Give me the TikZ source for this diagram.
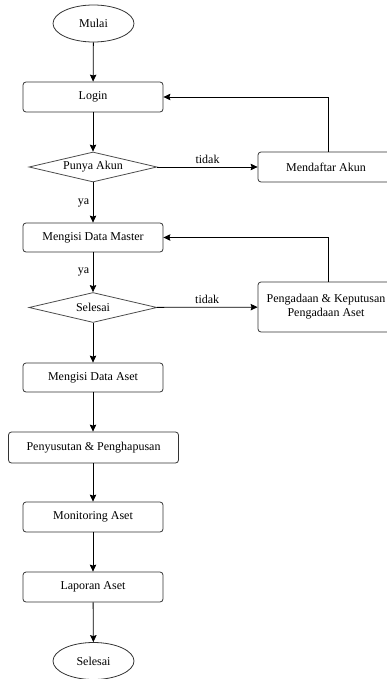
\documentclass[tikz,border=0pt]{standalone}
\usepackage{fontspec}
\setmainfont{Liberation Serif}
\usetikzlibrary{shapes.geometric,arrows.meta}

\begin{document}
\begin{tikzpicture}[x=1pt, y=-1pt, font=\fontsize{12}{14}\selectfont,
    proses/.style={draw=black!80, rounded corners=3pt, line width=0.8pt,
        minimum width=140pt, minimum height=30pt, inner sep=0pt, align=center},
    keputusan/.style={draw=black!70, diamond, shape aspect=4.27, line width=0.8pt,
        minimum width=128pt, minimum height=30pt, inner sep=0pt},
    terminal/.style={draw=black!80, ellipse, line width=0.8pt,
        minimum width=81pt, minimum height=37pt, inner sep=0pt},
    panah/.style={draw=black, line width=0.8pt, -{Stealth[length=7pt, width=6.5pt, inset=1pt]}}]
    \useasboundingbox (0,0) rectangle (386,679);
    % alur utama
    \node[terminal] (mulai) at (93.5,23.5) {Mulai};
    \node[proses] (login) at (93,97) {Login};
    \node[keputusan] (akun) at (93,167) {Punya Akun};
    \node[proses, minimum width=136pt] (daftar) at (326,167) {Mendaftar Akun};
    \node[proses, minimum height=29pt] (master) at (93,237.5) {Mengisi Data Master};
    \node[keputusan] (cek) at (93,307.5) {Selesai};
    \node[proses, minimum width=136pt, minimum height=50pt] (pengadaan) at (326,307)
        {Pengadaan \& Keputusan\\Pengadaan Aset};
    \node[proses, minimum height=29pt] (aset) at (93,377.5) {Mengisi Data Aset};
    \node[proses, minimum width=170pt, minimum height=31pt] (susut) at (93.5,447.5)
        {Penyusutan \& Penghapusan};
    \node[proses] (monitor) at (93,517) {Monitoring Aset};
    \node[proses] (laporan) at (93,587) {Laporan Aset};
    \node[terminal] (akhir) at (93.5,661) {Selesai};

    \draw[panah] (mulai) -- (login);
    \draw[panah] (login) -- (akun);
    \draw[panah] (akun) -- node[above] {tidak} (daftar);
    \draw[panah] ([xshift=2pt]daftar.north) |- (login.east);
    \draw[panah] (akun) -- node[left] {ya} (master);
    \draw[panah] (master) -- node[left] {ya} (cek);
    \draw[panah] (cek) -- node[above] {tidak} (pengadaan);
    \draw[panah] ([xshift=2pt]pengadaan.north) |- (master.east);
    \draw[panah] (cek) -- (aset);
    \draw[panah] (aset) -- (aset |- susut.north);
    \draw[panah] (susut.south -| aset) -- (monitor);
    \draw[panah] (monitor) -- (laporan);
    \draw[panah] (laporan) -- (akhir);
\end{tikzpicture}
\end{document}
